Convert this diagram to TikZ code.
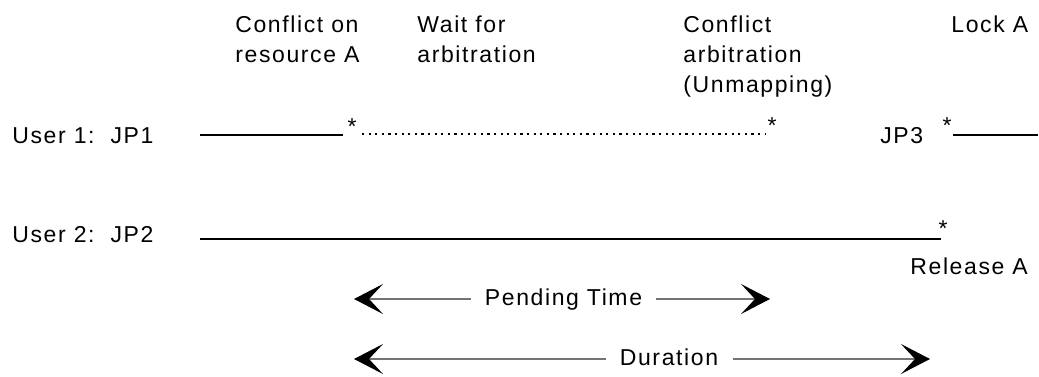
\documentclass[tikz,border=0pt]{standalone}
\usepackage{fontspec}
\setmainfont{Liberation Sans}[LetterSpace=7]
\usetikzlibrary{arrows.meta}
\tikzset{
  lbl/.style={inner sep=0pt, font=\fontsize{11.5pt}{15pt}\selectfont},
  starmark/.style={lbl, anchor=base},
  busy/.style={line width=0.75pt},
  waiting/.style={line width=1.2pt, dash pattern=on 1.1pt off 2.2pt},
  span/.style={draw=black!55, line width=0.6pt,
    -{Stealth[length=14.5pt, width=15pt, inset=7pt, color=black]}},
  spanlbl/.style={lbl, text height=9pt, text depth=3pt, inner xsep=7pt},
}
\begin{document}
\begin{tikzpicture}[x=0.5pt, y=-0.5pt]
  \useasboundingbox (0,0) rectangle (1039,376);

  % event labels
  \node[lbl, align=left, anchor=north west] (conflict) at (235,15) {Conflict on\\resource A};
  \node[lbl, align=left, anchor=north west] (wait) at (417,15) {Wait for\\arbitration};
  \node[lbl, align=left, anchor=north west] (arbit) at (683,15) {Conflict\\arbitration\\(Unmapping)};
  \node[lbl, anchor=base west] (lock) at (951,32) {Lock A};

  % users
  \node[lbl, anchor=base west] (user1) at (12,143) {User 1:\ \ JP1};
  \node[lbl, anchor=base west] (user2) at (12,242) {User 2:\ \ JP2};
  \node[lbl, anchor=base west] (jp3) at (880,143) {JP3};
  \node[lbl, anchor=base west] (release) at (910,274) {Release A};

  \node[starmark] (s1) at (352,134) {*};
  \node[starmark] (s2) at (772,133) {*};
  \node[starmark] (s3) at (947,133) {*};
  \node[starmark] (s4) at (943,236) {*};

  % time lines
  \coordinate (u1a) at (200,135);
  \coordinate (u1b) at (343,135);
  \coordinate (w1a) at (362,134);
  \coordinate (w1b) at (766,134);
  \coordinate (u3a) at (953,135);
  \coordinate (u3b) at (1038,135);
  \coordinate (u2a) at (200,239);
  \coordinate (u2b) at (941,239);
  \draw[busy] (u1a) -- (u1b);
  \draw[waiting] (w1a) -- (w1b);
  \draw[busy] (u3a) -- (u3b);
  \draw[busy] (u2a) -- (u2b);

  % spans
  \node[spanlbl] (pend) at (563.5,299) {Pending Time};
  \coordinate (p0) at (354,299);
  \coordinate (p1) at (770,299);
  \draw[span] (pend.west) -- (p0);
  \draw[span] (pend.east) -- (p1);

  \node[spanlbl] (dur) at (669,359) {Duration};
  \coordinate (d0) at (354,359);
  \coordinate (d1) at (930,359);
  \draw[span] (dur.west) -- (d0);
  \draw[span] (dur.east) -- (d1);
\end{tikzpicture}
\end{document}
